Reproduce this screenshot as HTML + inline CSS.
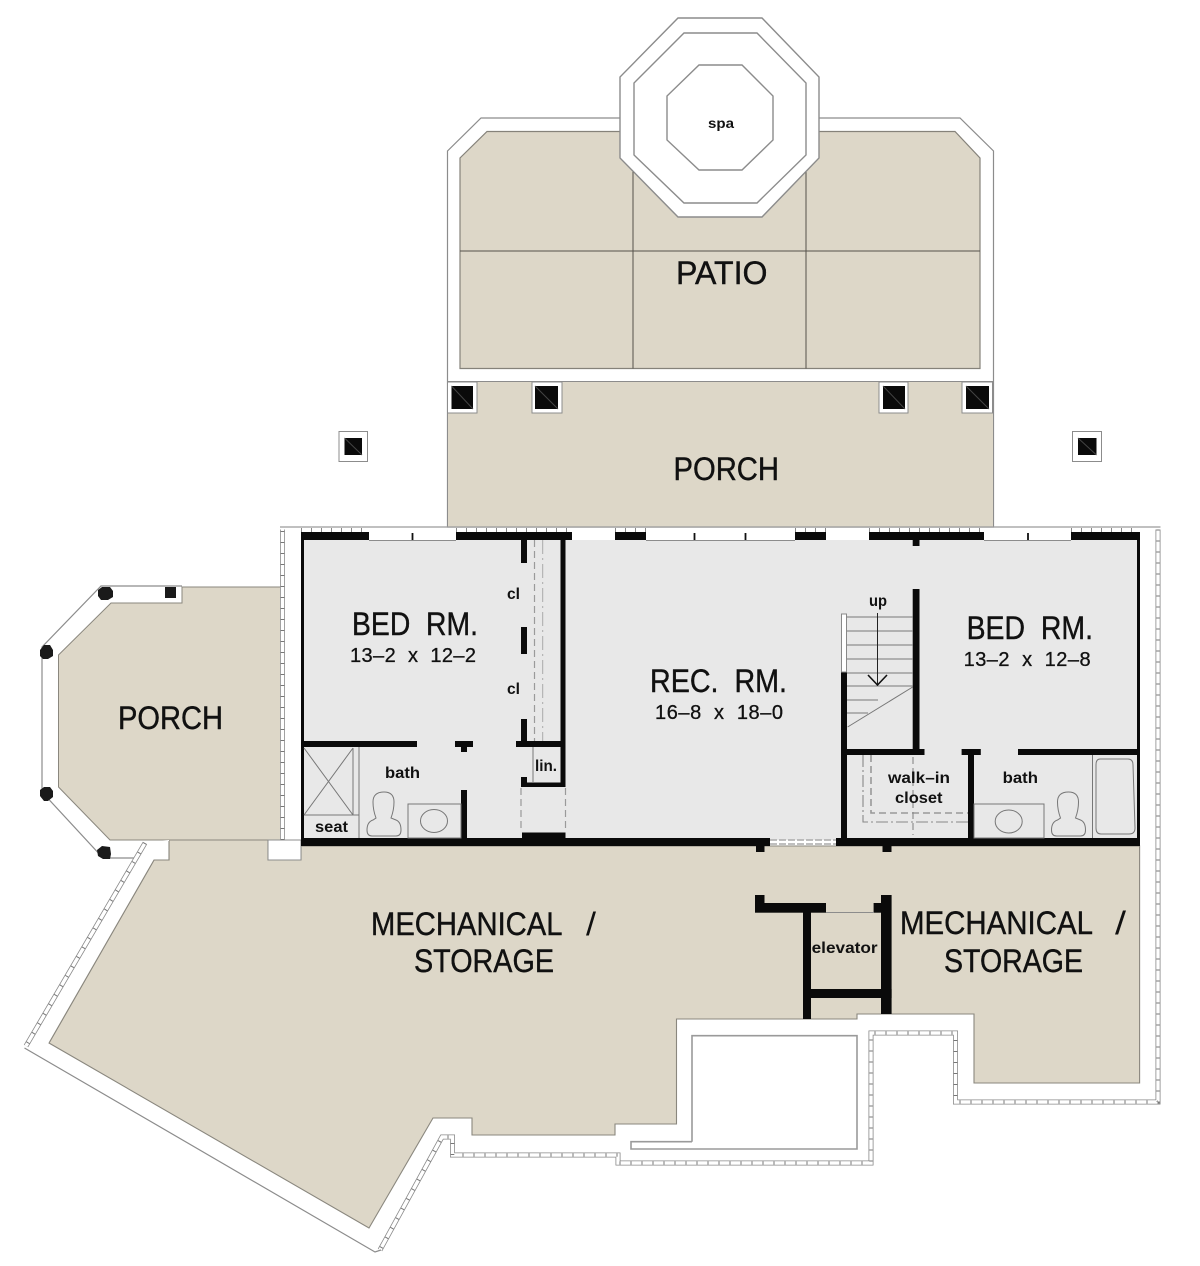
<!DOCTYPE html>
<html><head><meta charset="utf-8"><style>
html,body{margin:0;padding:0;background:#fff}
svg{display:block;filter:blur(0.35px)}
text{font-family:"Liberation Sans",sans-serif;fill:#111;white-space:pre}
.b{font-weight:bold;font-size:16px}
.l{font-size:32px;stroke:#111;stroke-width:.4}
.d{font-size:20px;stroke:#111;stroke-width:.3}
</style></head><body>
<svg width="1200" height="1266" viewBox="0 0 1200 1266" xmlns="http://www.w3.org/2000/svg">
<!-- patio -->
<polygon points="447.5,527 447.5,151 481,118 960,118 993.5,151 993.5,527" fill="#fff" stroke="#8c8c8c" stroke-width="1.2"/>
<polygon points="460,368.5 460,158 487,131.5 955,131.5 980,158 980,368.5" fill="#ddd7c8" stroke="#85827a" stroke-width="1.2"/>
<path d="M633,160V368.5M806,160V368.5M460,251H980" stroke="#55524a" stroke-width="1" fill="none"/>
<rect x="447.5" y="381.5" width="546" height="145.5" fill="#ddd7c8" stroke="#8c8c8c" stroke-width="1"/>
<!-- spa -->
<polygon points="678,18 762,18 819,77 819,158 762,217 678,217 620,158 620,77" fill="#fff" stroke="#8c8c8c" stroke-width="1.4"/>
<polygon points="684,33 757,33 806,83 806,155 757,203 684,203 634,155 634,83" fill="#fff" stroke="#8c8c8c" stroke-width="1.4"/>
<polygon points="699,65 742,65 773,96 773,140 742,170 699,170 667,140 667,96" fill="#fff" stroke="#8c8c8c" stroke-width="1.4"/>
<!-- columns -->
<g fill="#fff" stroke="#8c8c8c" stroke-width="1">
<rect x="447.5" y="382" width="29.5" height="31"/><rect x="532" y="382" width="30" height="31"/>
<rect x="879" y="382" width="29" height="31"/><rect x="962" y="382" width="30.5" height="31"/>
<rect x="339" y="431.5" width="28.5" height="30"/><rect x="1072.5" y="431.5" width="29" height="30"/>
</g>
<g fill="#0a0a0a">
<rect x="451.5" y="386" width="21.5" height="23"/><rect x="535" y="386" width="23" height="23"/>
<rect x="883" y="386" width="22" height="23"/><rect x="966" y="386" width="23" height="23"/>
<rect x="344.5" y="438" width="17.5" height="17"/><rect x="1078" y="438" width="18.5" height="17"/>
</g>
<path d="M451.5,386L473,409M535,386L558,409M883,386L905,409M966,386L989,409M344.5,438L362,455M1078,438L1096.5,455" stroke="#444" stroke-width="1"/>
<!-- left porch -->
<polygon points="182,586 101,586 42,647 42,792 103,858 141,858 169,840 281,840 281,586" fill="#fff" stroke="none"/>
<polyline points="182,586 101,586 42,647 42,792 103,858 143,858" fill="none" stroke="#8c8c8c" stroke-width="1.2"/>
<polygon points="281,587 182,587 182,603 111,603 58.5,655 58.5,787 110,840 281,840" fill="#ddd7c8" stroke="#8a877e" stroke-width="1"/>
<g fill="#1a1a1a">
<polygon points="98,590 102,587 110,587 113,591 113,597 108,600 101,600 98,596"/>
<rect x="165" y="587" width="11" height="11"/>
<polygon points="40,650 44,645 50,645 53,650 53,656 48,659 43,659 40,656"/>
<polygon points="40,790 44,787 50,787 53,791 53,797 48,801 44,801 40,796"/>
<polygon points="97,850 102,846 110,847 111,854 110,859 103,859 98,856"/>
</g>
<!-- mechanical -->
<polygon points="169,840 268,840 268,860 301,860 301,846 1139.6,846 1139.6,1083 974,1083 974,1014 857,1014 857,1019 676.5,1019 676.5,1124 615,1124 615,1135 472,1135 472,1118 433,1118 369,1228 49,1043 154,860 169,860" fill="#ddd7c8" stroke="#8a877e" stroke-width="1.1"/>
<!-- white wall between -->
<rect x="268" y="840" width="33" height="20" fill="#fff" stroke="#8c8c8c" stroke-width="1"/>
<polygon points="143,842 169,840 169,860 154,860 49,1043 27,1046" fill="#fff"/>
<polyline points="169,841 169,860 154,860 49,1043" fill="none" stroke="#8a877e" stroke-width="1.1"/>
<!-- inner court -->
<polyline points="692,1141.7 692,1035.7 857,1035.7 857,1149 631,1149 631,1141.7 692,1141.7" fill="none" stroke="#9a9a9a" stroke-width="1.6"/>
<!-- interior -->
<rect x="304" y="540" width="833" height="300" fill="#e8e8e8"/>
<!-- outer hatched walls -->
<g fill="none" stroke-linejoin="miter">
<path d="M282.5,840V529.5M1158,529.5V1102H955.5V1033H871V1163H618V1155H452.5V1137H442L380,1250M145,843L26,1046" stroke="#8a8a8a" stroke-width="5"/>
<path d="M282.5,840V529.5M1158,529.5V1102H955.5V1033H871V1163H618V1155H452.5V1137H442L380,1250M145,843L26,1046" stroke="#fff" stroke-width="3.4"/>
<path d="M282.5,840V529.5M1158,529.5V1102H955.5V1033H871V1163H618V1155H452.5V1137H442L380,1250M145,843L26,1046" stroke="#777" stroke-width="3.6" stroke-dasharray="1 10"/>
</g>
<path d="M24.5,1048L375,1252L381,1250" fill="none" stroke="#8c8c8c" stroke-width="1.2"/>
<path d="M280,527H1160.5" stroke="#9a9a9a" stroke-width="1.2"/>
<!-- top wall -->
<g fill="#0a0a0a">
<rect x="301" y="532" width="68" height="8"/><rect x="456" y="532" width="116" height="8"/>
<rect x="615" y="532" width="31" height="8"/><rect x="795" y="532" width="31" height="8"/>
<rect x="869" y="532" width="115" height="8"/><rect x="1071" y="532" width="69" height="8"/>
</g>
<path d="M301,530H369M456,530H572M615,530H646M795,530H826M869,530H984M1071,530H1140" stroke="#888" stroke-width="4" stroke-dasharray="1 9"/>
<path d="M369,540.5H456M646,540.5H795M984,540.5H1071" stroke="#8c8c8c" stroke-width="1"/>
<path d="M412.5,533V540M694.5,533V540M745.5,533V540M1028,533V540" stroke="#111" stroke-width="1.8"/>
<!-- main black walls -->
<g fill="#0a0a0a">
<rect x="301" y="538" width="3" height="308"/>
<rect x="1137" y="538" width="3" height="308"/>
<rect x="301" y="838" width="469" height="8"/>
<rect x="836" y="838" width="304" height="8"/>
<rect x="756" y="846" width="8.5" height="6"/><rect x="882.5" y="846" width="9" height="6"/>
<!-- left bed -->
<rect x="302" y="741" width="115" height="6"/>
<rect x="455" y="741" width="18" height="6"/><rect x="461" y="747" width="6" height="5"/>
<rect x="521" y="540" width="6" height="23"/><rect x="521" y="627" width="6" height="27"/><rect x="521" y="719" width="6" height="22"/>
<rect x="560.5" y="540" width="5" height="247"/>
<rect x="516" y="741" width="49.5" height="6"/>
<rect x="521" y="777" width="6" height="10"/><rect x="521" y="782.5" width="44.5" height="4.5"/>
<rect x="522" y="832.5" width="43.5" height="5.5"/>
<rect x="461" y="790" width="6" height="48"/>
<!-- stairs -->
<rect x="912.7" y="589" width="6.8" height="161"/>
<rect x="841" y="672" width="6" height="168"/>
<rect x="841" y="749" width="83.5" height="6"/>
<rect x="912.7" y="540" width="6.8" height="6"/>
<!-- right bath -->
<rect x="1018" y="749" width="120" height="6"/>
<rect x="961.6" y="749" width="19.2" height="6"/>
<rect x="968" y="755" width="6" height="83"/>
<!-- elevator -->
<rect x="755" y="903" width="71" height="9.7"/><rect x="755" y="895" width="9.5" height="9"/>
<rect x="803" y="912" width="8" height="107"/>
<rect x="881" y="895" width="10.6" height="119"/><rect x="873.6" y="903" width="8" height="9.7"/>
<rect x="803" y="989" width="88.6" height="9"/>
</g>
<path d="M826,912.5H874" stroke="#8c8c8c" stroke-width="1"/>
<!-- door rear -->
<path d="M770,840H836M770,844H836" stroke="#aaa" stroke-width="1.5" stroke-dasharray="7 2" fill="none"/>
<!-- closet dashes left -->
<path d="M534.5,540V741M521,788V832M565.5,788V832" stroke="#9a9a9a" stroke-width="1.2" stroke-dasharray="7 4" fill="none"/>
<path d="M542.7,540V741" stroke="#aaa" stroke-width="1" stroke-dasharray="14 4 2 4" fill="none"/>
<path d="M533,747V783" stroke="#777" stroke-width="1"/>
<!-- left bath fixtures -->
<g fill="none" stroke="#777" stroke-width="1">
<path d="M304,748L353,815M353,748L304,815M353,748V815M304,815H359M359,747V838"/>
<rect x="408" y="804" width="53" height="34"/>
<ellipse cx="434" cy="821" rx="13.5" ry="11.5"/>
<path d="M372,836Q367,836 367,830Q367,822 373,820L376,818Q373,810 373,802Q373,792 384,792Q394,792 394,802Q394,810 391,818L396,820Q401,822 401,830Q401,836 396,836Z"/>
<path transform="translate(684.5,0)" d="M372,836Q367,836 367,830Q367,822 373,820L376,818Q373,810 373,802Q373,792 384,792Q394,792 394,802Q394,810 391,818L396,820Q401,822 401,830Q401,836 396,836Z"/>
<rect x="974" y="804" width="70" height="34"/>
<ellipse cx="1008.7" cy="821.5" rx="13.5" ry="11.5"/>
<path d="M1092.5,755V838"/>
<path d="M1100,759H1128Q1133,759 1133,765L1135,828Q1135,834 1129,834H1101Q1096,834 1096,828L1096,765Q1096,759 1100,759Z"/>
</g>
<!-- stairs detail -->
<rect x="841.5" y="614" width="5" height="58" fill="#fff" stroke="#888" stroke-width="1"/>
<path d="M847,617H913M847,631H913M847,645H913M847,659H913M847,673H913M847,686H913M847,700H878M847,713H868M847.6,727L912.7,687" stroke="#777" stroke-width="1" fill="none"/>
<path d="M877.5,613V685" stroke="#222" stroke-width="1" fill="none"/>
<path d="M868,675L877.5,685L887,675" stroke="#111" stroke-width="1.6" fill="none"/>
<!-- closet right -->
<path d="M863,755V822H968" stroke="#888" stroke-width="1.1" stroke-dasharray="12 3 2 3" fill="none"/>
<path d="M871,755V813H968" stroke="#999" stroke-width="1.6" stroke-dasharray="7 4" fill="none"/>
<path d="M913,757V835" stroke="#888" stroke-width="1.1" stroke-dasharray="7 4" fill="none"/>

<!-- labels -->
<text x="708" y="128" class="b" textLength="26" lengthAdjust="spacingAndGlyphs" style="font-size:14px">spa</text>
<text x="676" y="284" class="l" textLength="91.5" lengthAdjust="spacingAndGlyphs">PATIO</text>
<text x="673.5" y="480" class="l" textLength="105.5" lengthAdjust="spacingAndGlyphs">PORCH</text>
<text x="118" y="729" class="l" textLength="105" lengthAdjust="spacingAndGlyphs">PORCH</text>
<text x="352" y="635" class="l" textLength="126" lengthAdjust="spacingAndGlyphs">BED  RM.</text>
<text x="350" y="662" class="d" textLength="126" lengthAdjust="spacing">13–2  x  12–2</text>
<text x="650" y="692" class="l" textLength="137" lengthAdjust="spacingAndGlyphs">REC.  RM.</text>
<text x="655" y="719" class="d" textLength="128" lengthAdjust="spacing">16–8  x  18–0</text>
<text x="966.6" y="639" class="l" textLength="126.4" lengthAdjust="spacingAndGlyphs">BED  RM.</text>
<text x="963.6" y="666" class="d" textLength="127" lengthAdjust="spacing">13–2  x  12–8</text>
<text x="507" y="599" class="b" textLength="13" lengthAdjust="spacingAndGlyphs">cl</text>
<text x="507" y="694" class="b" textLength="13" lengthAdjust="spacingAndGlyphs">cl</text>
<text x="385" y="778" class="b" textLength="35" lengthAdjust="spacingAndGlyphs">bath</text>
<text x="535" y="771" class="b" textLength="22" lengthAdjust="spacingAndGlyphs">lin.</text>
<text x="315" y="832" class="b" textLength="33" lengthAdjust="spacingAndGlyphs">seat</text>
<text x="869" y="606" class="b" textLength="18" lengthAdjust="spacingAndGlyphs">up</text>
<text x="888" y="783" class="b" textLength="62" lengthAdjust="spacingAndGlyphs">walk–in</text>
<text x="895" y="803" class="b" textLength="47.5" lengthAdjust="spacingAndGlyphs">closet</text>
<text x="1002.6" y="783" class="b" textLength="35.4" lengthAdjust="spacingAndGlyphs">bath</text>
<text x="811.6" y="953" class="b" textLength="66" lengthAdjust="spacingAndGlyphs">elevator</text>
<text x="371" y="935" class="l" textLength="191.5" lengthAdjust="spacingAndGlyphs">MECHANICAL</text>
<text x="586" y="935" class="l" textLength="10" lengthAdjust="spacingAndGlyphs" style="stroke-width:0">/</text>
<text x="414" y="972" class="l" textLength="140" lengthAdjust="spacingAndGlyphs">STORAGE</text>
<text x="900" y="934" class="l" textLength="193" lengthAdjust="spacingAndGlyphs">MECHANICAL</text>
<text x="1115" y="934" class="l" textLength="11" lengthAdjust="spacingAndGlyphs" style="stroke-width:0">/</text>
<text x="944" y="972" class="l" textLength="139" lengthAdjust="spacingAndGlyphs">STORAGE</text>
</svg>
</body></html>
